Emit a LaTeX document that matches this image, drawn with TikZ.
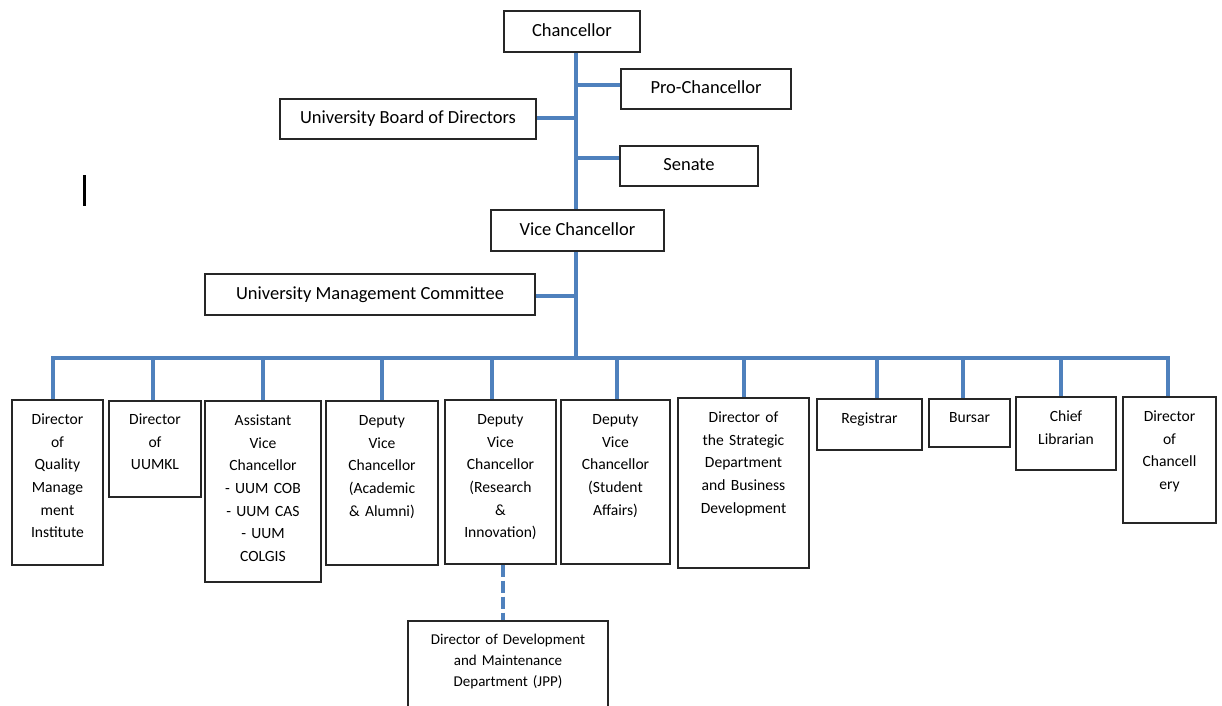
\documentclass[tikz,border=0pt]{standalone}
\usepackage{fontspec}
\setmainfont{Carlito}
\definecolor{orgblue}{HTML}{4F81BD}
\definecolor{boxline}{HTML}{262626}
\begin{document}
\begin{tikzpicture}[x=1pt,y=-1pt,
  box/.style={draw=boxline,line width=1.1pt,inner sep=0pt,fill=white},
  topbox/.style={box,font=\fontsize{18.5}{22}\selectfont,text height=1.0em,text depth=0.02em},
  lbl/.style={anchor=base,align=center,inner sep=0pt,text width=#1,font=\fontsize{15.6}{22.7}\selectfont},
  devlbl/.style={anchor=base,align=center,inner sep=0pt,text width=#1,font=\fontsize{15}{20.8}\selectfont},
  conn/.style={draw=orgblue,line width=4pt},
  dashconn/.style={draw=orgblue,line width=4pt,dash pattern=on 12.5pt off 3.5pt}]
\useasboundingbox (0,0) rectangle (1222,705);
\clip (0,0) rectangle (1222,705);
\fill[white] (0,0) rectangle (1222,705);

% coordinates
\coordinate (bus) at (576,358);
\coordinate (d1) at (53,358);
\coordinate (d2) at (153,358);
\coordinate (d3) at (263,358);
\coordinate (d4) at (381.5,358);
\coordinate (d5) at (491.5,358);
\coordinate (d6) at (617,358);
\coordinate (d7) at (744,358);
\coordinate (d8) at (876.5,358);
\coordinate (d9) at (963,358);
\coordinate (d10) at (1061,358);
\coordinate (d11) at (1168,358);
\coordinate (dv) at (502.5,0);
\coordinate (bpro) at (576,85);
\coordinate (bubd) at (576,118);
\coordinate (bsen) at (576,158);
\coordinate (bumc) at (576,296);

% top boxes (positions)
\path (572,31.5) node[topbox,minimum width=136,minimum height=41] (chan) {};
\path (706,89) node[topbox,minimum width=170,minimum height=40] (pro) {};
\path (408,119) node[topbox,minimum width=255,minimum height=40] (ubd) {};
\path (689,166) node[topbox,minimum width=137,minimum height=40] (sen) {};
\path (577.5,230.5) node[topbox,minimum width=172,minimum height=41] (vc) {};
\path (370,294.5) node[topbox,minimum width=329,minimum height=40] (umc) {};

% connectors top
\draw[conn] (chan.south -| bus) -- (vc.north -| bus);
\draw[conn] (vc.south -| bus) -- (bus);
\draw[conn] (bpro) -- (pro.west |- bpro);
\draw[conn] (bubd) -- (ubd.east |- bubd);
\draw[conn] (bsen) -- (sen.west |- bsen);
\draw[conn] (bumc) -- (umc.east |- bumc);

% bottom boxes
\path (57.5,482.5) node[box,minimum width=91,minimum height=165] (b1) {};
\path (155,449) node[box,minimum width=91,minimum height=96] (b2) {};
\path (263,491.5) node[box,minimum width=115,minimum height=181] (b3) {};
\path (382,483) node[box,minimum width=112,minimum height=164] (b4) {};
\path (500.5,482) node[box,minimum width=111,minimum height=164] (b5) {};
\path (615.5,482) node[box,minimum width=109,minimum height=164] (b6) {};
\path (743.5,483) node[box,minimum width=131,minimum height=170] (b7) {};
\path (869.5,424.5) node[box,minimum width=105,minimum height=50] (b8) {};
\path (969.5,423) node[box,minimum width=81,minimum height=48] (b9) {};
\path (1066,433.5) node[box,minimum width=100,minimum height=73] (b10) {};
\path (1169.5,460) node[box,minimum width=93,minimum height=126] (b11) {};
\path (508,665) node[box,minimum width=200,minimum height=88] (dev) {};

% bus and drops
\draw[conn,line join=miter] (b1.north -| d1) -- (d1) -- (d11) -- (b11.north -| d11);
\foreach \i in {2,...,10} {\draw[conn] (d\i) -- (b\i.north -| d\i);}
\draw[dashconn] (b5.south -| dv) -- (dev.north -| dv);

% redraw box outlines on top of connectors
\foreach \n in {chan,pro,ubd,sen,vc,umc,b1,b2,b3,b4,b5,b6,b7,b8,b9,b10,b11,dev}
  {\draw[draw=boxline,line width=1.1pt] (\n.north west) rectangle (\n.south east);}

% top labels
\node[topbox,draw=none,fill=none] (tchan) at (chan.center) {Chancellor};
\node[topbox,draw=none,fill=none] (tpro) at (pro.center) {Pro-Chancellor};
\node[topbox,draw=none,fill=none] (tubd) at (ubd.center) {University Board of Directors};
\node[topbox,draw=none,fill=none] (tsen) at (sen.center) {Senate};
\node[topbox,draw=none,fill=none] (tvc) at (vc.center) {Vice Chancellor};
\node[topbox,draw=none,fill=none] (tumc) at (umc.center) {University Management Committee};

% bottom labels
\node[lbl=91] (t1) at ([yshift=-25]b1.north) {Director\\of\\Quality\\Manage\\ment\\Institute};
\node[lbl=91] (t2) at ([yshift=-24]b2.north) {Director\\of\\UUMKL};
\node[lbl=115] (t3) at ([yshift=-25]b3.north) {Assistant\\Vice\\Chancellor\\- UUM COB\\- UUM CAS\\- UUM\\COLGIS};
\node[lbl=112] (t4) at ([yshift=-25]b4.north) {Deputy\\Vice\\Chancellor\\(Academic\\\& Alumni)};
\node[lbl=111] (t5) at ([yshift=-25]b5.north) {Deputy\\Vice\\Chancellor\\(Research\\\&\\Innovation)};
\node[lbl=109] (t6) at ([yshift=-25]b6.north) {Deputy\\Vice\\Chancellor\\(Student\\Affairs)};
\node[lbl=131] (t7) at ([yshift=-25]b7.north) {Director of\\the Strategic\\Department\\and Business\\Development};
\node[lbl=105] (t8) at ([yshift=-24.5]b8.north) {Registrar};
\node[lbl=81] (t9) at ([yshift=-24.5]b9.north) {Bursar};
\node[lbl=100] (t10) at ([yshift=-25]b10.north) {Chief\\Librarian};
\node[lbl=93] (t11) at ([yshift=-25]b11.north) {Director\\of\\Chancell\\ery};
\node[devlbl=200] (tdev) at ([yshift=-24.5]dev.north) {Director of Development\\and Maintenance\\Department (JPP)};

% stray cursor mark
\coordinate (cur1) at (84.3,175);
\coordinate (cur2) at (84.3,205.5);
\draw[line width=2.6pt,black] (cur1) -- (cur2);
\end{tikzpicture}
\end{document}
